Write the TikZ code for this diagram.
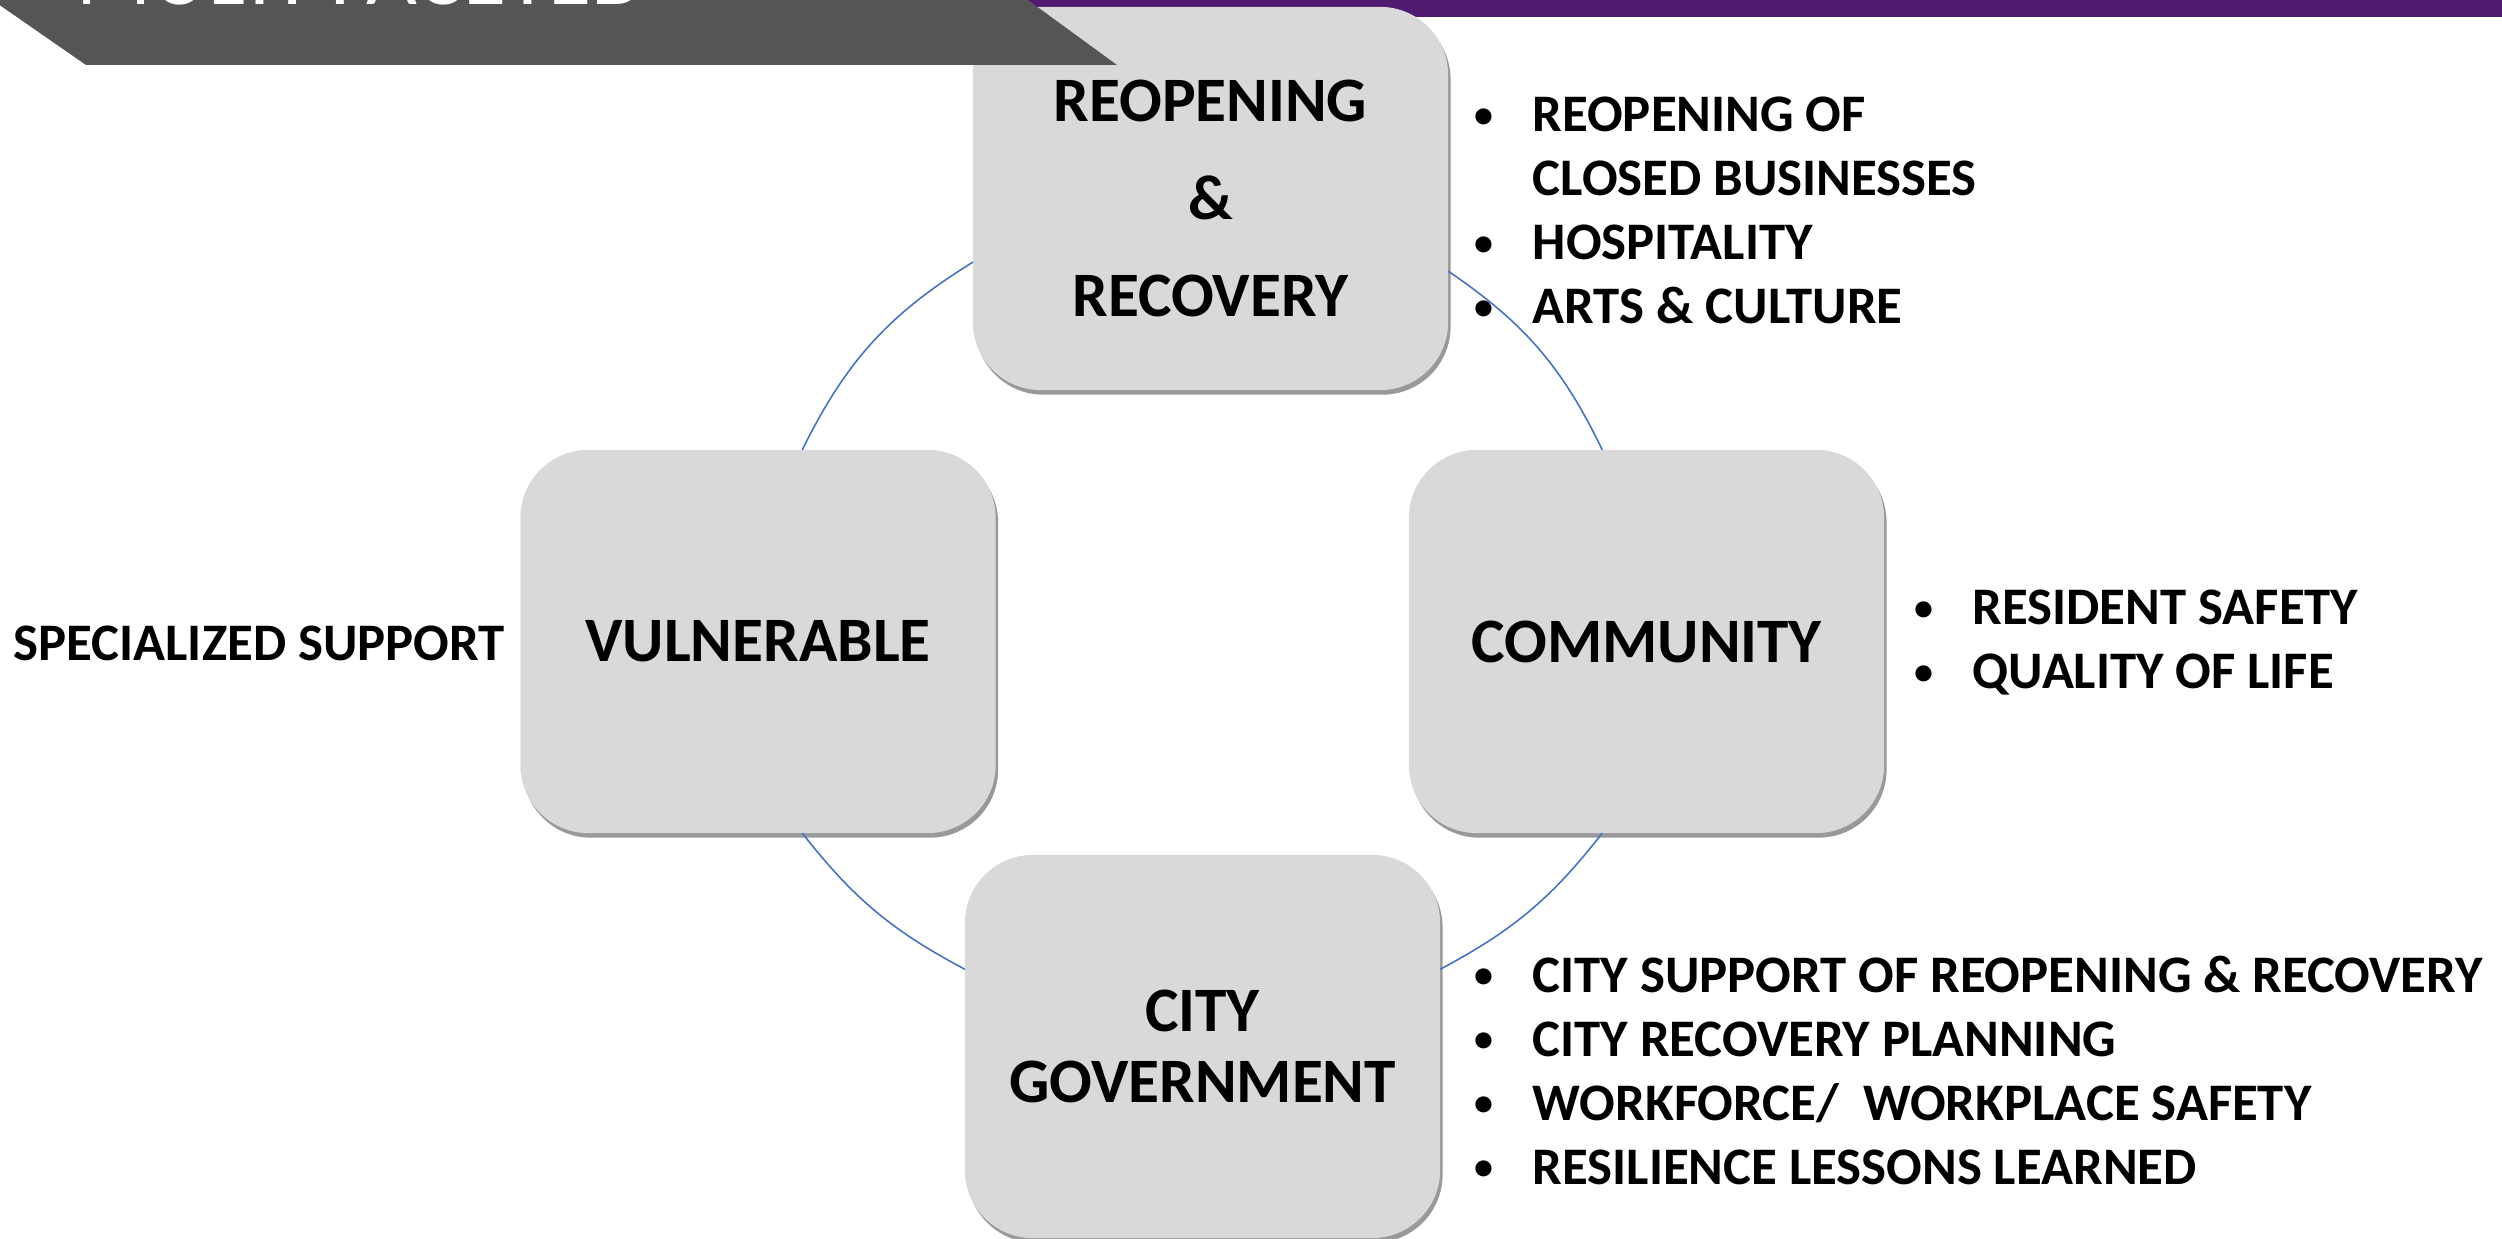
\documentclass[tikz,border=0pt]{standalone}
\usepackage{fontspec}
\usepackage{graphicx}
\setmainfont{Carlito}
\usetikzlibrary{shadows}

\definecolor{slidepurple}{RGB}{80,26,112}
\definecolor{bannergray}{RGB}{85,85,85}
\definecolor{boxgray}{RGB}{217,217,217}
\definecolor{ringblue}{RGB}{68,114,196}

% bullet and hanging indent for the side lists
\newcommand{\bul}{\makebox[16.5pt][l]{\raisebox{1.2pt}{\scalebox{0.72}{\textbullet}}}}
\newcommand{\nobul}{\hspace*{16.5pt}}

\begin{document}
\begin{tikzpicture}[x=0.01cm, y=0.01cm,
    box/.style={fill=boxgray, rounded corners=0.68cm, minimum width=4.75cm, minimum height=3.83cm,
        inner sep=0pt, outer sep=0pt, align=center, font=\fontsize{18}{20}\selectfont\bfseries,
        drop shadow={shadow xshift=0.7pt, shadow yshift=-1.3pt, opacity=0.4, fill=black}},
    list/.style={anchor=north west, inner sep=0pt, align=left, font=\fontsize{15}{18.2}\selectfont\bfseries},
    ring/.style={draw=ringblue, line width=0.45pt}]
    \useasboundingbox (0,0) rectangle (2502,1239);

    % purple strip along the top edge
    \fill[slidepurple] (1000,1222) rectangle (2520,1260);

    \node[box, font=\fontsize{18}{27.7}\selectfont\bfseries] at (1210.5,1040.5) (reo) {REOPENING\\ \&\\ RECOVERY};
    \node[box] at (758,597.5) (vul) {VULNERABLE};
    \node[box] at (1646.5,597.5) (com) {COMMUNITY};
    \node[box] at (1202.5,192.5) (gov) {CITY\\ GOVERNMENT};

    % the cycle ring between the boxes
    \draw[ring] (vul.77) to[bend left=16] (reo.195);
    \draw[ring] (reo.343) to[bend left=15] (com.103);
    \draw[ring] (com.257) to[bend left=12] (gov.18);
    \draw[ring] (gov.162) to[bend left=12] (vul.283);

    \node[list] at (1474,1143) (reolist) {\bul REOPENING OF\\ \nobul CLOSED BUSINESSES\\ \bul HOSPITALITY\\ \bul ARTS \& CULTURE};
    \node[list] at (1914,650) (comlist) {\bul RESIDENT SAFETY\\ \bul QUALITY OF LIFE};
    \node[list] at (1474,284) (govlist) {\bul CITY SUPPORT OF REOPENING \& RECOVERY\\ \bul CITY RECOVERY PLANNING\\ \bul WORKFORCE/\ \ WORKPLACE SAFETY\\ \bul RESILIENCE LESSONS LEARNED};
    \node[anchor=west, inner sep=0pt, font=\fontsize{15}{18.2}\selectfont\bfseries] at (13,596) (spec) {SPECIALIZED SUPPORT};

    % title banner
    \fill[bannergray] (-38,1260) -- (86,1174) -- (1117,1174) -- (999,1260) -- cycle;
    \node[anchor=base west, inner sep=0pt, text=white, font=\fontsize{25}{25}\selectfont] at (76,1234) (title) {MULTI-FACETED};
\end{tikzpicture}
\end{document}
